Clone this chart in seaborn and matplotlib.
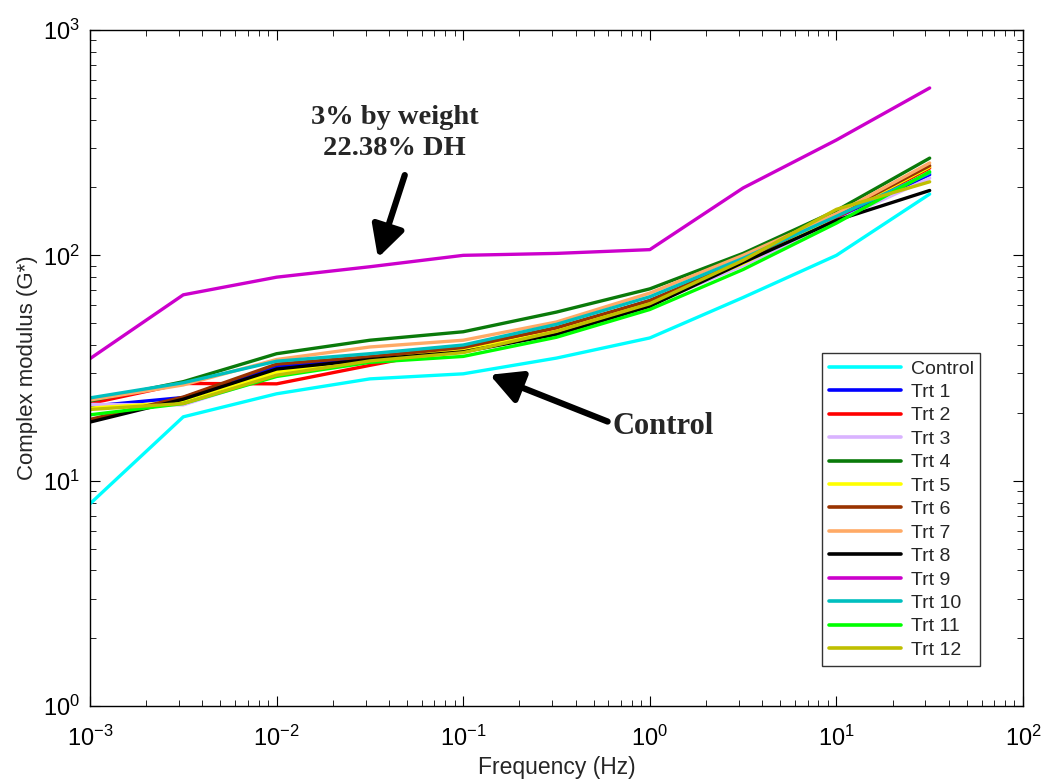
import numpy as np
import pandas as pd
import matplotlib
matplotlib.use("Agg")
import matplotlib.pyplot as plt
import seaborn as sns

# frecuencias (Hz)
freq = [0.001, 0.00316, 0.01, 0.0316, 0.1, 0.316, 1.0, 3.16, 10.0, 31.6]

# modulo complejo G*
control = [7.9, 19.2, 24.3, 28.3, 29.8, 35.0, 43.0, 65.0, 100.0, 187.0]
trt1 = [21.4, 23.4, 32.0, 35.0, 39.0, 47.0, 63.0, 92.0, 145.0, 228.0]
trt2 = [22.0, 27.0, 26.9, 32.5, 39.0, 47.0, 62.0, 93.0, 147.0, 244.0]
trt3 = [21.8, 21.7, 29.4, 34.0, 37.5, 46.0, 60.5, 90.0, 142.0, 220.0]
trt4 = [22.6, 27.5, 36.6, 42.0, 45.8, 56.0, 71.0, 102.0, 158.0, 270.0]
trt5 = [21.0, 22.3, 30.4, 34.5, 38.0, 46.0, 62.0, 92.0, 150.0, 247.0]
trt6 = [18.7, 23.5, 32.9, 35.5, 39.0, 47.8, 63.0, 95.0, 152.0, 250.0]
trt7 = [22.8, 26.6, 34.5, 39.2, 42.0, 50.6, 68.0, 100.0, 153.0, 257.0]
trt8 = [18.2, 23.0, 31.3, 34.5, 37.3, 44.6, 59.4, 93.0, 143.0, 194.0]
trt9 = [34.8, 66.8, 80.0, 89.0, 100.0, 102.0, 106.0, 199.0, 325.0, 553.0]
trt10 = [23.3, 27.2, 33.9, 36.6, 40.0, 49.4, 65.5, 97.0, 149.0, 232.0]
trt11 = [19.6, 22.0, 29.0, 33.5, 35.6, 43.3, 57.5, 86.5, 139.0, 235.0]
trt12 = [20.7, 22.0, 29.4, 34.0, 37.0, 46.0, 61.0, 95.0, 160.0, 212.0]

names = ["Control", "Trt 1", "Trt 2", "Trt 3", "Trt 4", "Trt 5", "Trt 6",
         "Trt 7", "Trt 8", "Trt 9", "Trt 10", "Trt 11", "Trt 12"]
series = [control, trt1, trt2, trt3, trt4, trt5, trt6, trt7, trt8, trt9,
          trt10, trt11, trt12]
colors = ["#00FFFF", "#0000FF", "#FF0000", "#D9B3FF", "#0A7A0A", "#FFFF00",
          "#993300", "#FFAA66", "#000000", "#CC00CC", "#00BFBF", "#00FF00",
          "#BFBF00"]

rows = []
for name, vals in zip(names, series):
    for f, v in zip(freq, vals):
        rows.append({"Frequency": f, "G": v, "Sample": name})
df = pd.DataFrame(rows)

sns.set_style("ticks")
plt.rcParams["font.family"] = ["Liberation Sans", "DejaVu Sans"]
plt.rcParams["mathtext.fontset"] = "custom"
plt.rcParams["mathtext.rm"] = "Liberation Sans"
plt.rcParams["mathtext.it"] = "Liberation Sans"

fig = plt.figure(figsize=(10.42, 7.83), dpi=100)
ax = fig.add_axes([0.0864, 0.0983, 0.8954, 0.8634])

sns.lineplot(data=df, x="Frequency", y="G", hue="Sample", hue_order=names,
             palette=dict(zip(names, colors)), sort=False, estimator=None,
             linewidth=2.4, ax=ax, legend=False)

ax.set_xscale("log")
ax.set_yscale("log")
ax.set_xlim(1e-3, 1e2)
ax.set_ylim(1e0, 1e3)
ax.tick_params(which="both", direction="in", top=True, right=True,
               labelsize=17, colors="black")
ax.tick_params(axis="x", which="major", pad=14)
ax.tick_params(axis="y", which="major", pad=7)
ax.tick_params(which="major", length=7)
ax.tick_params(which="minor", length=4)
for s in ax.spines.values():
    s.set_color("black")
    s.set_linewidth(1.0)

ax.set_xlabel("Frequency (Hz)", fontsize=16.5, labelpad=4)
ax.set_ylabel("Complex modulus (G*)", fontsize=16, labelpad=4)

# leyenda
handles = [plt.Line2D([], [], color=c, linewidth=2.6) for c in colors]
leg = ax.legend(handles, names, loc="upper left", bbox_to_anchor=(0.7846, 0.522),
                borderaxespad=0, fontsize=14, frameon=True, fancybox=False,
                edgecolor="black", handlelength=3.7, handletextpad=0.5,
                labelspacing=0.3, borderpad=0.35)
leg.get_frame().set_linewidth(1.0)

# anotaciones
arrow = dict(arrowstyle="-|>,head_length=0.95,head_width=0.5", color="black",
             lw=4.5, shrinkA=0, shrinkB=0, mutation_scale=20)
ax.text(0.043, 350, "3% by weight\n22.38% DH", ha="center", va="center",
        fontsize=20.5, fontweight="bold", family="Liberation Serif",
        linespacing=1.3)
ax.annotate("", xy=(0.0349, 97.5), xytext=(0.0486, 227), arrowprops=arrow)
ax.text(0.632, 17.35, "Control", ha="left", va="center", fontsize=22,
        fontweight="bold", family="Liberation Serif")
ax.annotate("", xy=(0.1387, 29.5), xytext=(0.594, 18.3), arrowprops=arrow)

fig.savefig("out.png", dpi=100)
